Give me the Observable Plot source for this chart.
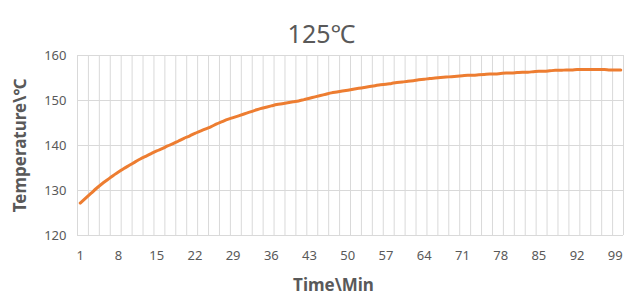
<!DOCTYPE html>
<html>
<head>
<meta charset="utf-8">
<script src="https://cdn.jsdelivr.net/npm/d3@7"></script>
<script src="https://cdn.jsdelivr.net/npm/@observablehq/plot@0.6"></script>
<style>
  html, body { margin: 0; padding: 0; background: #fff; }
  #chart { width: 624px; height: 300px; }
</style>
</head>
<body>
<div id="chart"></div>
<script>
const title = "125℃";
const xLabel = "Time\\Min";
const yLabel = "Temperature\\℃";
const minutes = d3.range(1, 101);
const temperature = [
  127.2, 128.3, 129.4, 130.5, 131.5, 132.4, 133.3, 134.1, 134.9, 135.6,
  136.3, 137.0, 137.6, 138.2, 138.8, 139.3, 139.9, 140.4, 141.0, 141.6,
  142.1, 142.7, 143.2, 143.7, 144.2, 144.8, 145.3, 145.8, 146.2, 146.6,
  147.0, 147.4, 147.8, 148.2, 148.5, 148.8, 149.1, 149.3, 149.5, 149.7,
  149.9, 150.2, 150.5, 150.8, 151.1, 151.4, 151.7, 151.9, 152.1, 152.3,
  152.5, 152.7, 152.9, 153.1, 153.3, 153.5, 153.6, 153.8, 154.0, 154.1,
  154.3, 154.4, 154.6, 154.7, 154.9, 155.0, 155.1, 155.2, 155.3, 155.4,
  155.5, 155.6, 155.6, 155.7, 155.8, 155.9, 155.9, 156.0, 156.1, 156.1,
  156.2, 156.3, 156.3, 156.4, 156.5, 156.5, 156.6, 156.7, 156.7, 156.8,
  156.8, 156.9, 156.9, 156.9, 156.9, 156.9, 156.9, 156.8, 156.8, 156.8
];
const xTicks = [1, 8, 15, 22, 29, 36, 43, 50, 57, 64, 71, 78, 85, 92, 99];
const yTicks = [120, 130, 140, 150, 160];

const data = minutes.map((m, i) => ({minute: m, temp: temperature[i]}));
const vGrid = d3.range(0.5, 101, 2);

const font = "'Noto Sans', 'Noto Sans CJK SC', sans-serif";
const chart = Plot.plot({
  width: 624,
  height: 300,
  marginLeft: 77,
  marginRight: 1,
  marginTop: 55,
  marginBottom: 65,
  style: {fontFamily: font, background: "#fff"},
  x: {domain: [0.5, 100.5], ticks: xTicks},
  y: {domain: [120, 160], ticks: yTicks},
  marks: [
    Plot.ruleX(vGrid, {stroke: "#d9d9d9", strokeWidth: 1}),
    Plot.ruleY(yTicks, {stroke: "#d9d9d9", strokeWidth: 1}),
    Plot.axisX({ticks: xTicks, tickSize: 0, tickPadding: 15, label: null, fontSize: 13, fill: "#595959", tickFormat: d => String(d)}),
    Plot.axisY({ticks: yTicks, tickSize: 0, tickPadding: 11, label: null, fontSize: 13, fill: "#595959"}),
    Plot.line(data, {x: "minute", y: "temp", stroke: "#ED7D31", strokeWidth: 3, curve: "monotone-x"}),
    Plot.text([title], {frameAnchor: "top", dx: -29, dy: -30, text: d => d, fontSize: 25, fill: "#595959"}),
    Plot.text([xLabel], {frameAnchor: "bottom", dx: -17, dy: 55, text: d => d, fontSize: 17, fontWeight: "bold", fill: "#595959"}),
    Plot.text([yLabel], {frameAnchor: "left", textAnchor: "middle", dx: -57, rotate: -90, text: d => d, fontSize: 17, fontWeight: "bold", fill: "#595959"})
  ]
});
document.getElementById("chart").appendChild(chart);
</script>
</body>
</html>
